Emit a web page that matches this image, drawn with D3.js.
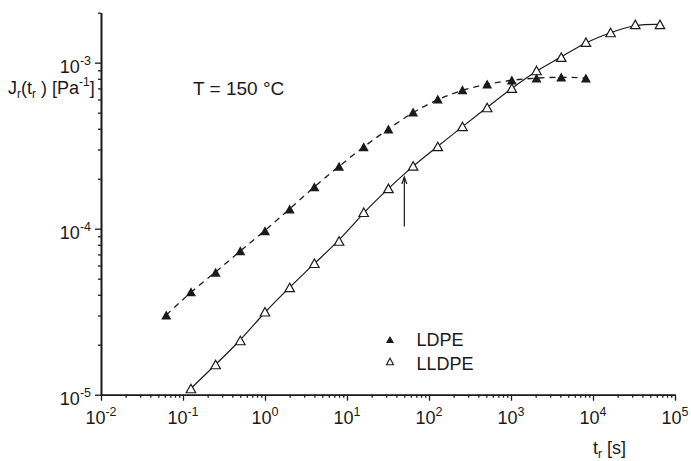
<!DOCTYPE html>
<html><head><meta charset="utf-8">
<script src="https://cdn.jsdelivr.net/npm/d3@7"></script>
<style>
html,body{margin:0;padding:0;background:#fff;}
text{font-family:"Liberation Sans",Arial,sans-serif;fill:#1a1a1a;}
</style></head>
<body>
<svg id="chart" width="691" height="461"></svg>
<script>
// ---- data ----
const ldpeTime = [0.0625,0.125,0.25,0.5,1,2,4,8,16,32,64,128,256,512,1024,2048,4096,8192];
const ldpeJ = [3.02e-5,4.17e-5,5.46e-5,7.36e-5,9.73e-5,1.315e-4,1.79e-4,2.38e-4,3.12e-4,3.99e-4,5.05e-4,6.04e-4,6.86e-4,7.45e-4,7.87e-4,8.09e-4,8.2e-4,8.09e-4];
const lldpeTime = [0.125,0.25,0.5,1,2,4,8,16,32,64,128,256,512,1024,2048,4096,8192,16384,32768,65536];
const lldpeJ = [1.09e-5,1.52e-5,2.12e-5,3.16e-5,4.43e-5,6.19e-5,8.43e-5,1.256e-4,1.75e-4,2.39e-4,3.13e-4,4.13e-4,5.37e-4,7.02e-4,8.97e-4,1.08e-3,1.33e-3,1.52e-3,1.70e-3,1.70e-3];
const xMajorTicks = [1e-2,1e-1,1e0,1e1,1e2,1e3,1e4,1e5];
const xTickExps = ["-2","-1","0","1","2","3","4","5"];
const yMajorTicks = [1e-5,1e-4,1e-3];
const yTickExps = ["-5","-4","-3"];
const arrowTime = 50;
const arrowFrom = 1.03e-4, arrowTo = 2.05e-4;
const seriesNames = ["LDPE","LLDPE"];
const tempLabel = "T = 150 °C";

// ---- chart ----
const svg = d3.select("#chart");
const x = d3.scaleLog().domain([1e-2,1e5]).range([101,675]);
const y = d3.scaleLog().domain([1e-5,2e-3]).range([394.7,12.7]);

function minors(lo, hi){
  const out=[];
  for(let e=Math.floor(Math.log10(lo)); e<=Math.ceil(Math.log10(hi)); e++){
    for(let m=2;m<=9;m++){const v=m*Math.pow(10,e); if(v>=lo*0.999 && v<=hi*1.001) out.push(v);}
  }
  return out;
}

const axStroke = "#1a1a1a";
// x axis
const gx = svg.append("g").attr("transform","translate(0,394.7)");
gx.call(d3.axisBottom(x).tickValues(xMajorTicks).tickSize(6).tickSizeOuter(0).tickFormat(""));
gx.append("g").call(d3.axisBottom(x).tickValues(minors(1e-2,1e5)).tickSize(3).tickSizeOuter(0).tickFormat(""));
// y axis
const gy = svg.append("g").attr("transform","translate(101,0)");
gy.call(d3.axisLeft(y).tickValues(yMajorTicks).tickSize(6).tickSizeOuter(0).tickFormat(""));
gy.append("g").call(d3.axisLeft(y).tickValues(minors(1e-5,2e-3)).tickSize(3).tickSizeOuter(0).tickFormat(""));
svg.selectAll(".domain").attr("stroke",axStroke).attr("stroke-width",1.6);
svg.selectAll(".tick line").attr("stroke",axStroke).attr("stroke-width",1.3);

// tick labels
xMajorTicks.forEach((v,i)=>{
  const t = svg.append("text").attr("x",x(v)).attr("y",424).attr("text-anchor","middle").attr("font-size",18);
  t.append("tspan").text("10");
  t.append("tspan").attr("dy",-8).attr("font-size",12.5).text(xTickExps[i]);
});
yMajorTicks.forEach((v,i)=>{
  const t = svg.append("text").attr("x",91).attr("y",y(v)+10).attr("text-anchor","end").attr("font-size",18);
  t.append("tspan").text("10");
  t.append("tspan").attr("dy",-8).attr("font-size",12.5).text(yTickExps[i]);
});

// axis titles
const yt = svg.append("text").attr("x",8).attr("y",94).attr("font-size",18);
yt.append("tspan").text("J");
yt.append("tspan").attr("dy",4).attr("font-size",12).text("r");
yt.append("tspan").attr("dy",-4).text("(t");
yt.append("tspan").attr("dy",4).attr("font-size",12).text("r");
yt.append("tspan").attr("dy",-4).text(" ) [Pa");
yt.append("tspan").attr("dy",-8).attr("font-size",12).text("-1");
yt.append("tspan").attr("dy",8).text("]");

const xt = svg.append("text").attr("x",593).attr("y",454).attr("font-size",18);
xt.append("tspan").text("t");
xt.append("tspan").attr("dy",4).attr("font-size",12).text("r");
xt.append("tspan").attr("dy",-4).text(" [s]");

svg.append("text").attr("x",193).attr("y",95).attr("font-size",19).text(tempLabel);

// lines (smooth fits through the data)
const line = d3.line().x(d=>x(d[0])).y(d=>y(d[1])).curve(d3.curveBasis);
const ldpe = ldpeTime.map((t,i)=>[t,ldpeJ[i]]);
const lldpe = lldpeTime.map((t,i)=>[t,lldpeJ[i]]);
svg.append("path").datum(ldpe).attr("d",line).attr("fill","none").attr("stroke","#1a1a1a").attr("stroke-width",1.3).attr("stroke-dasharray","6,5");
svg.append("path").datum(lldpe).attr("d",line).attr("fill","none").attr("stroke","#1a1a1a").attr("stroke-width",1.2);

// markers
function tri(w,h){return `M0,${-h/2}L${w/2},${h/2}L${-w/2},${h/2}Z`;}
svg.append("g").selectAll("path").data(lldpe).join("path")
  .attr("d",tri(9.5,8.5)).attr("transform",d=>`translate(${x(d[0])},${y(d[1])})`)
  .attr("fill","#fff").attr("stroke","#1a1a1a").attr("stroke-width",1.2);
svg.append("g").selectAll("path").data(ldpe).join("path")
  .attr("d",tri(10,9)).attr("transform",d=>`translate(${x(d[0])},${y(d[1])})`)
  .attr("fill","#1a1a1a");

// arrow
const ax = x(arrowTime), ay0 = y(arrowFrom), ay1 = y(arrowTo);
svg.append("line").attr("x1",ax).attr("x2",ax).attr("y1",ay0).attr("y2",ay1).attr("stroke","#1a1a1a").attr("stroke-width",1.2);
svg.append("path").attr("d",`M${ax-2.5},${ay1+7}L${ax},${ay1}L${ax+2.5},${ay1+7}`).attr("fill","none").attr("stroke","#1a1a1a").attr("stroke-width",1.2);

// legend
svg.append("path").attr("d",tri(8,7)).attr("transform","translate(390,339.5)").attr("fill","#1a1a1a");
svg.append("path").attr("d",tri(7,6.5)).attr("transform","translate(390,361.5)").attr("fill","#fff").attr("stroke","#1a1a1a").attr("stroke-width",1.1);
svg.append("text").attr("x",416.5).attr("y",345.5).attr("font-size",18).text(seriesNames[0]);
svg.append("text").attr("x",416.5).attr("y",369.5).attr("font-size",18).text(seriesNames[1]);
</script>
</body></html>
